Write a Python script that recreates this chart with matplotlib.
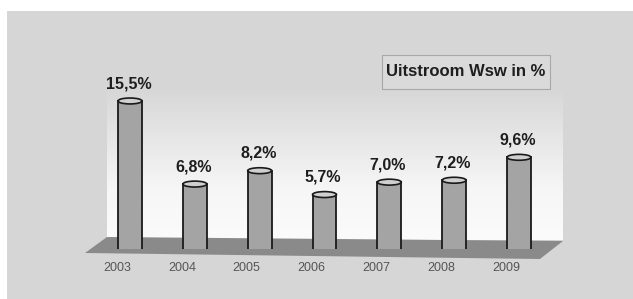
import numpy as np
import matplotlib
matplotlib.use("Agg")
import matplotlib.pyplot as plt
from matplotlib.patches import Rectangle, Polygon, Ellipse, Arc
from matplotlib.colors import LinearSegmentedColormap

plt.rcParams["font.family"] = ["Liberation Sans", "DejaVu Sans"]

years = ["2003", "2004", "2005", "2006", "2007", "2008", "2009"]
uitstroom = [15.5, 6.8, 8.2, 5.7, 7.0, 7.2, 9.6]
labels = ["15,5%", "6,8%", "8,2%", "5,7%", "7,0%", "7,2%", "9,6%"]

W, H = 633, 299
fig = plt.figure(figsize=(W / 100, H / 100), dpi=100)
fig.patch.set_facecolor("white")

# background decoration in pixel coordinates
bg = fig.add_axes([0, 0, 1, 1])
bg.set_xlim(0, W)
bg.set_ylim(H, 0)
bg.axis("off")
bg.add_patch(Rectangle((7, 11), W, H, facecolor="#d6d6d6", edgecolor="none"))

# wall with a soft vertical gradient (fades into the panel at the top)
wall_cmap = LinearSegmentedColormap.from_list("wall", ["#d6d6d6", "#e6e6e6", "#f6f6f6", "#fbfbfb"])
grad = np.linspace(0, 1, 100).reshape(-1, 1)
bg.imshow(grad, extent=(107, 563, 240, 85), cmap=wall_cmap, aspect="auto", zorder=1)
# floor
bg.add_patch(Polygon([(85, 253), (107, 237), (563, 241), (540, 259)],
                     closed=True, facecolor="#8a8a8a", edgecolor="none", zorder=2))

# title box
bg.add_patch(Rectangle((382, 55), 168, 34, facecolor="#dadada", edgecolor="#a8a8a8",
                       linewidth=0.8, zorder=2))
bg.text(466, 72, "Uitstroom Wsw in %", ha="center", va="center", fontsize=12,
        fontweight="bold", color="#1e1e1e", zorder=3)

# data axes
ax = fig.add_axes([97.6 / W, (H - 249) / H, 453.8 / W, 152.8 / H])
ax.set_xlim(-0.5, 6.5)
ax.set_ylim(0, 16)
ax.axis("off")

bw = 0.37
eh = 0.62
x = np.arange(len(years))
ax.bar(x, uitstroom, width=bw, color="#a4a4a4", edgecolor="none", zorder=3)
for xi, v, lab, yr in zip(x, uitstroom, labels, years):
    ax.plot([xi - bw / 2, xi - bw / 2], [0, v], color="#1a1a1a", lw=1.3, zorder=4)
    ax.plot([xi + bw / 2, xi + bw / 2], [0, v], color="#1a1a1a", lw=1.3, zorder=4)
    ax.add_patch(Ellipse((xi, 0), bw, eh, facecolor="#a4a4a4", edgecolor="none", zorder=3))
    ax.add_patch(Arc((xi, 0), bw, eh, theta1=180, theta2=360, color="#1a1a1a", lw=1.3, zorder=4))
    ax.add_patch(Ellipse((xi, v), bw, eh, facecolor="#cfcfcf", edgecolor="#1a1a1a",
                         lw=1.2, zorder=5))
    ax.annotate(lab, (xi, v), xytext=(-1, 7), textcoords="offset points",
                ha="center", va="bottom", fontsize=11.5, fontweight="bold",
                color="#1e1e1e", zorder=6)
    ax.text(xi - 0.2, -1.95, yr, ha="center", va="center", fontsize=9,
            color="#555555", clip_on=False)

fig.savefig("out.png", dpi=100)
